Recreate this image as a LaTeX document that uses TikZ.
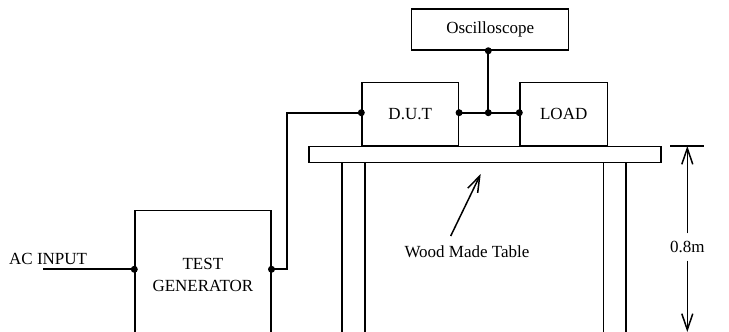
\documentclass[tikz,border=0pt]{standalone}
\usepackage{fontspec}
\setmainfont{Liberation Serif}
\usetikzlibrary{arrows.meta}
\begin{document}
\begin{tikzpicture}[x=1pt,y=-1pt,
  lbl/.style={font=\fontsize{17}{22}\selectfont},
  box/.style={draw,line width=1.5pt,inner sep=0pt,lbl},
  wire/.style={line width=1.8pt},
  leg/.style={line width=1.6pt},
  dot/.style={circle,fill,inner sep=0pt,minimum size=7pt},
  arr/.style={line width=1.5pt,-{Straight Barb[length=16pt,width=11pt,line width=1.5pt]}}]
\useasboundingbox (0,0) rectangle (729,332);
\clip (0,0) rectangle (729,332);
% boxes
\node[box,minimum width=157pt,minimum height=41pt] (osc) at (490.2,29.5) {Oscilloscope};
\node[box,minimum width=96.3pt,minimum height=63.3pt] (dut) at (410.2,114.35) {D.U.T};
\node[box,minimum width=87.3pt,minimum height=63.3pt] (load) at (563.7,114.35) {LOAD};
\node[box,minimum width=352pt,minimum height=16pt] (table) at (485,154.7) {};
\node[box,minimum width=135.7pt,minimum height=130pt,align=center] (tg) at (202.9,275.3) {TEST\\GENERATOR};
% table legs
\draw[leg] (341.7,162.7) -- (341.7,335);
\draw[leg] (365,162.7) -- (365,335);
\draw[leg] (603.3,162.7) -- (603.3,335);
\draw[leg] (626,162.7) -- (626,335);
% wiring
\coordinate (j) at (488.3,112.7);
\node[dot] (oscdot) at (j |- osc.south) {};
\node[dot] (jdot) at (j) {};
\node[dot] (dutout) at (dut.east |- j) {};
\node[dot] (loadin) at (load.west |- j) {};
\node[dot] (dutin) at (dut.west |- j) {};
\node[dot] (tgin) at (tg.west |- 0,269.3) {};
\node[dot] (tgout) at (tg.east |- 0,269.3) {};
\draw[wire] (oscdot.center) -- (jdot.center);
\draw[wire] (dutout.center) -- (loadin.center);
\coordinate (bend1) at (287.3,269.3);
\coordinate (bend2) at (287.3,112.7);
\draw[wire] (tgout.center) -- (bend1) -- (bend2) -- (dutin.center);
\node[lbl,anchor=west,inner sep=0pt] (ac) at (9,259) {AC INPUT};
\coordinate (acend) at (43,269.3);
\draw[wire] (acend) -- (tgin.center);
% wood label
\node[lbl] (wood) at (467,252) {Wood Made Table};
\coordinate (woodtail) at (450.7,236);
\coordinate (woodtip) at (480.7,174);
\draw[arr] (woodtail) -- (woodtip);
% dimension
\coordinate (tickl) at (670,146);
\coordinate (tickr) at (704,146);
\draw[leg] (tickl) -- (tickr);
\node[lbl,inner sep=0pt,minimum height=27pt] (dim) at (687.3,247) {0.8m};
\coordinate (dimtop) at (687.3,146);
\coordinate (dimbot) at (687.3,332);
\draw[arr] (dim.north) -- (dimtop);
\draw[arr] (dim.south) -- (dimbot);
\end{tikzpicture}
\end{document}
